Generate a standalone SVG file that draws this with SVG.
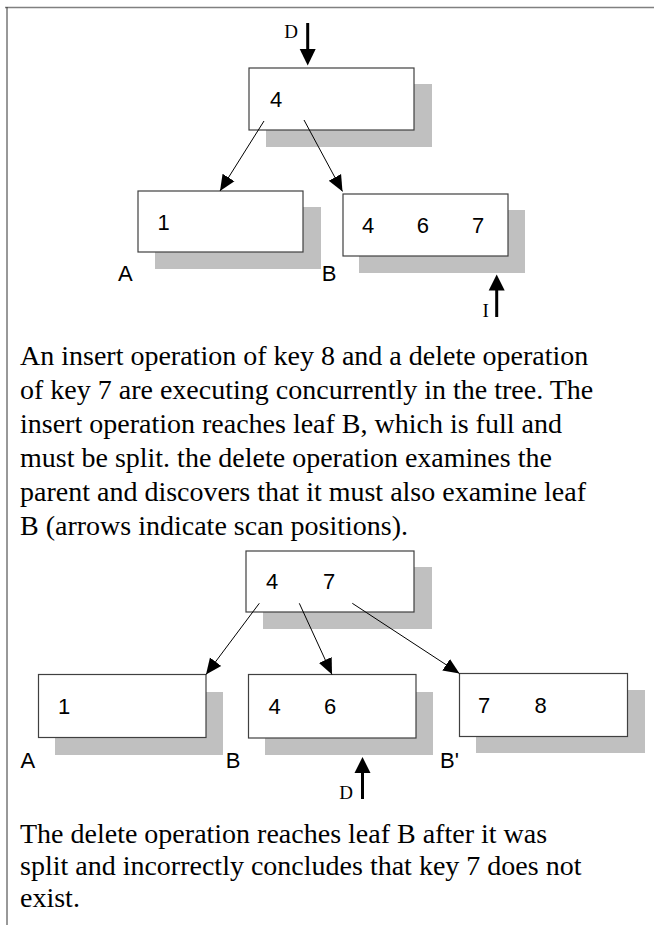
<svg xmlns="http://www.w3.org/2000/svg" width="654" height="925" viewBox="0 0 654 925">
  <style>
    .shadow { fill: #c0c0c0; stroke: none; }
    .box { fill: #ffffff; stroke: #404040; stroke-width: 1.2; }
    .key { font-family: "Liberation Sans", Arial, sans-serif; font-size: 22px; fill: #000; }
    .lbl { font-family: "Liberation Sans", Arial, sans-serif; font-size: 22px; fill: #000; }
    .op { font-family: "Liberation Serif", "Times New Roman", serif; font-size: 19px; fill: #000; }
    .para { font-family: "Liberation Serif", "Times New Roman", serif; font-size: 28px; fill: #000; }
    .ptr { stroke: #000; stroke-width: 1; fill: none; }
    .scan { stroke: #000; stroke-width: 3; fill: none; }
    .head { fill: #000; stroke: none; }
  </style>
  <defs>
    <marker id="tip" markerUnits="userSpaceOnUse" markerWidth="16" markerHeight="16" viewBox="0 0 16 16" refX="16" refY="8" orient="auto">
      <path d="M0,1 L16,8 L0,15 Z" fill="#000"/>
    </marker>
  </defs>

  <!-- page frame -->
  <line x1="5" y1="7.5" x2="654" y2="7.5" stroke="#808080" stroke-width="1.5"/>
  <line x1="7" y1="7" x2="7" y2="925" stroke="#333" stroke-width="1"/>

  <!-- ===== first tree ===== -->
  <g id="root1">
    <rect class="shadow" x="266" y="84" width="166" height="63"/>
    <rect class="box" x="249" y="68" width="165" height="62"/>
    <text class="key" x="270" y="106.5">4</text>
  </g>
  <g id="leafA1">
    <rect class="shadow" x="155" y="207" width="166" height="62"/>
    <rect class="box" x="138" y="191" width="165" height="61"/>
    <text class="key" x="157.5" y="230">1</text>
    <text class="lbl" x="118" y="281">A</text>
  </g>
  <g id="leafB1">
    <rect class="shadow" x="359" y="210" width="166" height="63"/>
    <rect class="box" x="343" y="194" width="165" height="62"/>
    <text class="key" x="362" y="233.3">4</text>
    <text class="key" x="416.8" y="233.3">6</text>
    <text class="key" x="472" y="233.3">7</text>
    <text class="lbl" x="321.7" y="281">B</text>
  </g>

  <!-- ===== second tree ===== -->
  <g id="root2">
    <rect class="shadow" x="263" y="567" width="169" height="62"/>
    <rect class="box" x="246" y="551" width="168" height="61"/>
    <text class="key" x="266" y="589">4</text>
    <text class="key" x="323" y="589">7</text>
  </g>
  <g id="leafA2">
    <rect class="shadow" x="55" y="692" width="168" height="63"/>
    <rect class="box" x="38.5" y="674.5" width="167.5" height="63"/>
    <text class="key" x="58" y="714">1</text>
    <text class="lbl" x="20.5" y="767.7">A</text>
  </g>
  <g id="leafB2">
    <rect class="shadow" x="265" y="692" width="168" height="63"/>
    <rect class="box" x="248.5" y="674.5" width="167.5" height="63.5"/>
    <text class="key" x="268.5" y="714">4</text>
    <text class="key" x="324" y="714">6</text>
    <text class="lbl" x="225.7" y="767.7">B</text>
  </g>
  <g id="leafBprime">
    <rect class="shadow" x="476" y="690" width="169" height="63"/>
    <rect class="box" x="459.5" y="673.5" width="168" height="63"/>
    <text class="key" x="478" y="712.7">7</text>
    <text class="key" x="534.6" y="712.7">8</text>
    <text class="lbl" x="440" y="767.7">B'</text>
  </g>

  <!-- ===== child pointers and scan positions ===== -->
  <g id="connectors">
    <line class="ptr" x1="264" y1="121" x2="220" y2="191" marker-end="url(#tip)"/>
    <line class="ptr" x1="304" y1="120" x2="342.5" y2="191.5" marker-end="url(#tip)"/>

    <line class="ptr" x1="259.3" y1="603.3" x2="206" y2="674.5" marker-end="url(#tip)"/>
    <line class="ptr" x1="299.3" y1="603.3" x2="332" y2="674.5" marker-end="url(#tip)"/>
    <line class="ptr" x1="352.3" y1="603.3" x2="459.5" y2="673.5" marker-end="url(#tip)"/>

    <!-- delete scan, first tree -->
    <line class="scan" x1="307.7" y1="23" x2="307.7" y2="51"/>
    <polygon class="head" points="299.7,49 315.7,49 307.7,65.5"/>
    <text class="op" x="284.3" y="37.7">D</text>

    <!-- insert scan, first tree -->
    <line class="scan" x1="496.7" y1="288" x2="496.7" y2="317"/>
    <polygon class="head" points="488.7,290.5 504.7,290.5 496.7,274.5"/>
    <text class="op" x="482.5" y="316.7">I</text>

    <!-- delete scan, second tree -->
    <line class="scan" x1="362.5" y1="770" x2="362.5" y2="799"/>
    <polygon class="head" points="354.5,773 370.5,773 362.5,757"/>
    <text class="op" x="339.3" y="799.3">D</text>
  </g>

  <!-- ===== captions ===== -->
  <g id="caption1">
    <text class="para" x="20" y="365">An insert operation of key 8 and a delete operation</text>
    <text class="para" x="20" y="399">of key 7 are executing concurrently in the tree. The</text>
    <text class="para" x="20" y="433">insert operation reaches leaf B, which is full and</text>
    <text class="para" x="20" y="467">must be split. the delete operation examines the</text>
    <text class="para" x="20" y="501">parent and discovers that it must also examine leaf</text>
    <text class="para" x="20" y="535">B (arrows indicate scan positions).</text>
  </g>
  <g id="caption2">
    <text class="para" x="20" y="843">The delete operation reaches leaf B after it was</text>
    <text class="para" x="20" y="875">split and incorrectly concludes that key 7 does not</text>
    <text class="para" x="20" y="907">exist.</text>
  </g>
</svg>
